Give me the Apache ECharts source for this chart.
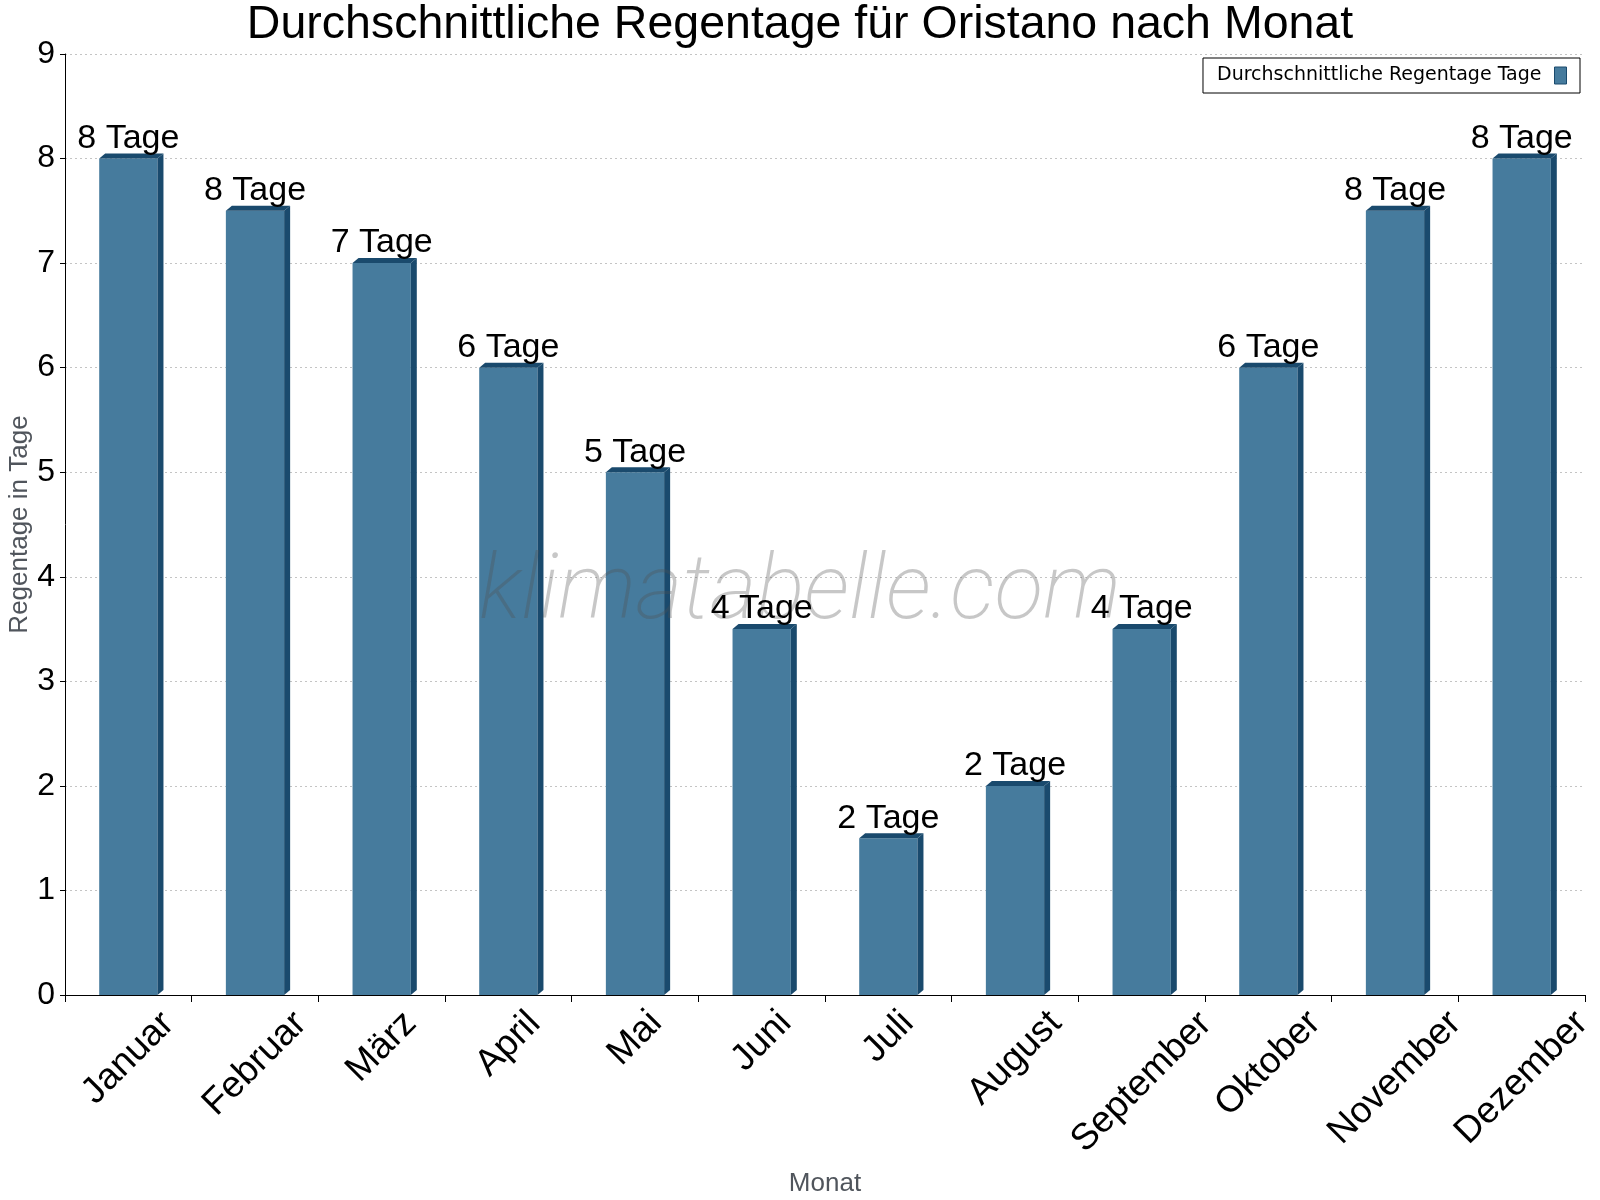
<!DOCTYPE html>
<html>
<head>
<meta charset="utf-8">
<script src="https://cdn.jsdelivr.net/npm/echarts@6/dist/echarts.min.js"></script>
<style>
  html, body { margin: 0; padding: 0; background: #ffffff; }
  #chart { width: 1600px; height: 1200px; }
</style>
</head>
<body>
<div id="chart"></div>
<script>
  const months = ['Januar', 'Februar', 'März', 'April', 'Mai', 'Juni', 'Juli', 'August', 'September', 'Oktober', 'November', 'Dezember'];
  const rainDays = [8, 7.5, 7, 6, 5, 3.5, 1.5, 2, 3.5, 6, 7.5, 8];
  const yTicks = [0, 1, 2, 3, 4, 5, 6, 7, 8, 9];

  const seriesName = 'Durchschnittliche Regentage Tage';
  const frontColor = '#467b9d';
  const darkColor = '#1a4a6d';
  const depthX = 6;
  const depthY = 5;
  const font = '"Liberation Sans", Arial, sans-serif';

  // rotated month labels: shift each one so its rotated box is centred under the bar
  const labelSize = 37;
  const ctx = document.createElement('canvas').getContext('2d');
  ctx.font = labelSize + 'px "Liberation Sans"';
  const monthAxisData = months.map(function (m) {
    const w = ctx.measureText(m).width;
    const half = (w + labelSize * 0.75) / 4;
    const p = Math.max(0, Math.round(half - labelSize / 2));
    const r = Math.round(2 * p + labelSize);
    return {
      value: m,
      textStyle: { align: 'center', verticalAlign: 'top', padding: [p, r, 0, 0] },
    };
  });

  const myChart = echarts.init(document.getElementById('chart'));

  myChart.setOption({
    animation: false,
    title: {
      text: 'Durchschnittliche Regentage für Oristano nach Monat',
      left: 'center',
      top: 2,
      padding: 0,
      textStyle: { fontFamily: font, fontSize: 46.5, fontWeight: 'normal', color: '#000000' },
    },
    legend: {
      right: 20,
      top: 58,
      align: 'right',
      icon: 'rect',
      itemWidth: 12,
      itemHeight: 17,
      padding: [8, 13, 8, 14],
      borderColor: '#000000',
      borderWidth: 1,
      borderRadius: 0,
      backgroundColor: '#ffffff',
      itemStyle: { borderColor: darkColor, borderWidth: 1 },
      textStyle: { fontFamily: '"DejaVu Sans", sans-serif', fontSize: 19, color: '#000000', padding: [0, 8, 0, 0] },
      data: [seriesName],
    },
    graphic: [
      {
        type: 'text',
        z: 3,
        left: 'center',
        top: 550,
        style: {
          text: 'klimatabelle.com',
          font: 'italic 200 90px Roboto, "Open Sans", sans-serif',
          fill: 'rgba(80,80,80,0.32)',
        },
      },
    ],
    grid: {
      left: 65,
      right: 15,
      top: 54,
      bottom: 205,
      containLabel: false,
      outerBoundsMode: 'none',
    },
    xAxis: {
      type: 'category',
      data: monthAxisData,
      name: 'Monat',
      nameLocation: 'middle',
      nameGap: 176,
      nameMoveOverlap: false,
      nameTextStyle: { fontFamily: font, fontSize: 26, color: '#50555c' },
      axisLine: { lineStyle: { color: '#000000', width: 1 } },
      axisTick: { show: true, length: 7, lineStyle: { color: '#000000' } },
      axisLabel: {
        interval: 0,
        rotate: 45,
        align: 'center',
        verticalAlign: 'top',
        margin: 13,
        hideOverlap: false,
        fontFamily: font,
        fontSize: labelSize,
        color: '#000000',
      },
      splitLine: { show: false },
    },
    yAxis: {
      type: 'value',
      min: yTicks[0],
      max: yTicks[yTicks.length - 1],
      interval: 1,
      name: 'Regentage in Tage',
      nameLocation: 'middle',
      nameGap: 32,
      nameRotate: 90,
      nameMoveOverlap: false,
      nameTextStyle: { fontFamily: font, fontSize: 26, color: '#50555c', verticalAlign: 'bottom' },
      axisLine: { show: true, lineStyle: { color: '#000000', width: 1 } },
      axisTick: { show: true, length: 5, lineStyle: { color: '#000000' } },
      axisLabel: { fontFamily: font, fontSize: 32, color: '#000000', margin: 10 },
      splitLine: { show: true, lineStyle: { color: '#c4c4c4', type: [2, 3], width: 1 } },
    },
    series: [
      {
        name: seriesName,
        type: 'custom',
        z: 2,
        itemStyle: { color: frontColor },
        data: rainDays.map(function (v, i) { return [i, v]; }),
        encode: { x: 0, y: 1 },
        renderItem: function (params, api) {
          const base = api.coord([api.value(0), 0]);
          const top = api.coord([api.value(0), api.value(1)]);
          const bw = api.size([1, 0])[0] * 0.46;
          const x0 = top[0] - bw / 2;
          const x1 = top[0] + bw / 2;
          return {
            type: 'group',
            children: [
              {
                type: 'rect',
                shape: { x: x0, y: top[1], width: bw, height: base[1] - top[1] },
                style: { fill: frontColor },
              },
              {
                type: 'polygon',
                shape: { points: [[x1, top[1]], [x1 + depthX, top[1] - depthY], [x1 + depthX, base[1] - depthY], [x1, base[1]]] },
                style: { fill: darkColor },
              },
              {
                type: 'polygon',
                shape: { points: [[x0, top[1]], [x0 + depthX, top[1] - depthY], [x1 + depthX, top[1] - depthY], [x1, top[1]]] },
                style: { fill: darkColor },
              },
            ],
          };
        },
      },
      {
        name: 'labels',
        type: 'custom',
        z: 4,
        silent: true,
        data: rainDays.map(function (v, i) { return [i, v]; }),
        encode: { x: 0, y: 1 },
        renderItem: function (params, api) {
          const top = api.coord([api.value(0), api.value(1)]);
          return {
            type: 'text',
            style: {
              text: Math.round(api.value(1)) + ' Tage',
              x: top[0],
              y: top[1] - depthY + 2,
              align: 'center',
              verticalAlign: 'bottom',
              font: '34px ' + font,
              fill: '#000000',
            },
          };
        },
      },
    ],
  });

  window.addEventListener('resize', function () {
    myChart && myChart.resize();
  });
</script>
</body>
</html>
